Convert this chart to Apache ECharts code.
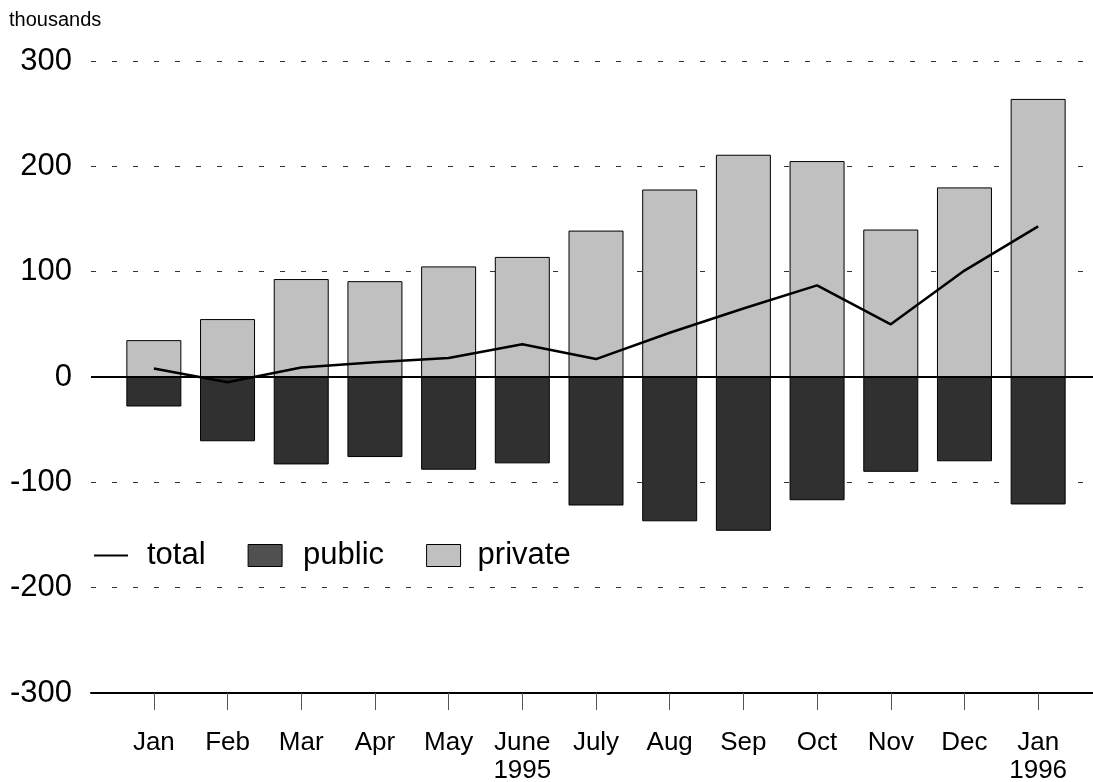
<!DOCTYPE html>
<html>
<head>
<meta charset="utf-8">
<script src="https://cdn.jsdelivr.net/npm/echarts@6/dist/echarts.min.js"></script>
<style>
html, body { margin: 0; padding: 0; background: #fff; }
#chart { width: 1093px; height: 782px; }
</style>
</head>
<body>
<div id="chart"></div>
<script>
// data (thousands)
var months = ['Jan', 'Feb', 'Mar', 'Apr', 'May', 'June\n1995', 'July', 'Aug', 'Sep', 'Oct', 'Nov', 'Dec', 'Jan\n1996'];
var privateVals = [35, 55, 93, 91, 105, 114, 139, 178, 211, 205, 140, 180, 264];
var publicVals = [-28, -61, -83, -76, -88, -82, -122, -137, -146, -117, -90, -80, -121];
var totalVals = [8, -5, 9, 14, 18, 31, 17, 42, 65, 87, 50, 101, 143];
var yTicks = [-300, -200, -100, 0, 100, 200, 300];

(function(){
	var chart = echarts.init(document.getElementById('chart'));
	var font = 'Liberation Sans, Arial, sans-serif';

	var option = {
    animation: false,
    textStyle: { fontFamily: font },
    title: {
        text: 'thousands',
        left: 4,
        top: 5,
        textStyle: { fontSize: 20, fontWeight: 'normal', color: '#000', fontFamily: font }
    },
    legend: {
        left: 88,
        top: 535,
        itemWidth: 34,
        itemHeight: 22,
        itemGap: 42,
        textStyle: { fontSize: 31, color: '#000', fontFamily: font },
        data: [
            { name: 'total', itemStyle: { opacity: 0 }, lineStyle: { color: '#000', width: 2 },
              textStyle: { padding: [0, 7, 0, 14] } },
            { name: 'public', icon: 'rect', itemStyle: { color: '#505050', borderColor: '#000', borderWidth: 1 },
              textStyle: { padding: [0, 0, 0, 16] } },
            { name: 'private', icon: 'rect', itemStyle: { color: '#c0c0c0', borderColor: '#000', borderWidth: 1 },
              textStyle: { padding: [0, 0, 0, 12] } }
        ]
    },
    grid: [
        // background grid: gridlines and axis lines, full width
        { left: 91, right: 0, top: 61, bottom: 89, outerBoundsMode: 'none', containLabel: false },
        // bars grid
        { left: 117, right: 18, top: 61, bottom: 89, outerBoundsMode: 'none', containLabel: false }
    ],
    xAxis: [
        {
            gridIndex: 0,
            type: 'value',
            min: 0,
            max: 1,
            axisLine: { onZero: false, lineStyle: { color: '#000', width: 2 } },
            axisTick: { show: false },
            axisLabel: { show: false },
            splitLine: { show: false }
        },
        {
            gridIndex: 1,
            type: 'category',
            data: months,
            axisLine: { show: true, onZero: false, lineStyle: { color: '#000', width: 2, opacity: 0 } },
            axisTick: { show: true, alignWithLabel: true, length: 17, lineStyle: { color: '#555', width: 1, opacity: 1 } },
            axisLabel: { fontSize: 26, color: '#000', margin: 36, lineHeight: 28, interval: 0, fontFamily: font },
            splitLine: { show: false }
        }
    ],
    yAxis: [
        {
            gridIndex: 0,
            type: 'value',
            min: yTicks[0],
            max: yTicks[yTicks.length - 1],
            interval: 100,
            axisLine: { show: false },
            axisTick: { show: false },
            axisLabel: { fontSize: 31, color: '#000', margin: 19, fontFamily: font },
            splitLine: { show: true, lineStyle: { color: '#333', width: 1, type: [5, 16] } }
        },
        {
            gridIndex: 1,
            type: 'value',
            min: yTicks[0],
            max: yTicks[yTicks.length - 1],
            show: false,
            splitLine: { show: false }
        }
    ],
    series: [
        {
            // zero line across the whole plot
            name: 'zero',
            type: 'line',
            xAxisIndex: 0,
            yAxisIndex: 0,
            data: [],
            silent: true,
            markLine: {
                symbol: 'none',
                silent: true,
                label: { show: false },
                lineStyle: { color: '#000', width: 2, type: 'solid' },
                data: [{ yAxis: 0 }]
            }
        },
        {
            name: 'public',
            type: 'bar',
            xAxisIndex: 1,
            yAxisIndex: 1,
            stack: 'total',
            barWidth: 55,
            itemStyle: { color: '#303030', borderColor: '#000', borderWidth: 1 },
            data: publicVals
        },
        {
            name: 'private',
            type: 'bar',
            xAxisIndex: 1,
            yAxisIndex: 1,
            stack: 'total',
            barWidth: 55,
            itemStyle: { color: '#c0c0c0', borderColor: '#000', borderWidth: 1 },
            data: privateVals
        },
        {
            name: 'total',
            type: 'line',
            xAxisIndex: 1,
            yAxisIndex: 1,
            symbol: 'none',
            z: 5,
            lineStyle: { color: '#000', width: 2.5 },
            itemStyle: { color: '#000' },
            data: totalVals
        }
    ]
};

	chart.setOption(option);
})();
</script>
</body>
</html>
